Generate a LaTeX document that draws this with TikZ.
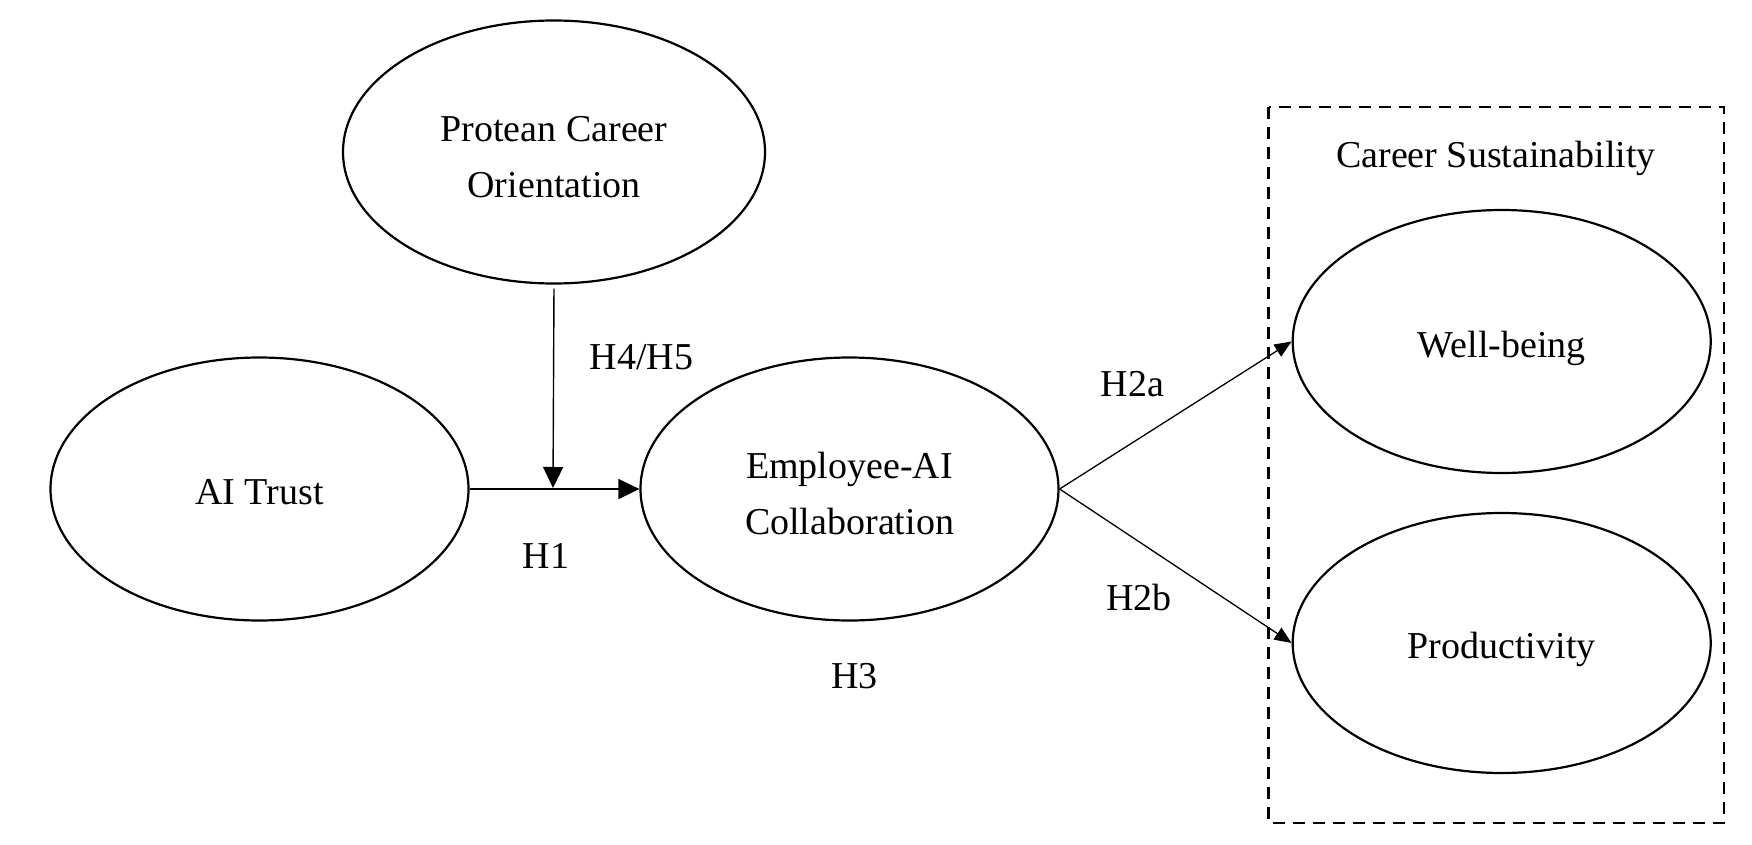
\documentclass[tikz,border=0pt]{standalone}
\usepackage{fontspec}
\setmainfont{Liberation Serif}
\usetikzlibrary{shapes.geometric,arrows.meta}
\begin{document}
\begin{tikzpicture}[x=1pt,y=-1pt,
  construct/.style={ellipse,draw,line width=2.2pt,minimum width=418pt,minimum height=263pt,inner sep=0pt,align=center,font=\fontsize{38}{56}\selectfont},
  oneline/.style={text height=31pt,text depth=0pt},
  lbl/.style={font=\fontsize{38}{46}\selectfont,inner sep=0pt},
  hyparrow/.style={line width=1.4pt,-{Triangle[length=21pt,width=20pt]}},
  hyparrowsmall/.style={line width=1.3pt,-{Triangle[length=17pt,width=14pt]}},
  groupbox/.style={draw,line width=2.5pt,dash pattern=on 12pt off 8pt}]
\useasboundingbox (0,0) rectangle (1752,845);
\fill[white] (0,0) rectangle (1752,845);
\node[construct,minimum width=422pt] (pco) at (554,152) {\rule{0pt}{35pt}Protean Career\\Orientation};
\node[construct,oneline] (ait) at (259.5,489) {AI Trust};
\node[construct] (eac) at (849.5,489) {\rule{0pt}{35pt}Employee-AI\\Collaboration};
\node[construct,oneline] (wb) at (1501.7,341.5) {Well-being};
\node[construct,oneline,minimum height=260pt] (prod) at (1501.7,643) {Productivity};
\path[groupbox] (1268.6,107) rectangle (1724,823);
\node[lbl] (cs) at (1496,158) {Career Sustainability};
\coordinate (mod) at (553,488);
\draw[hyparrow] (ait.east) -- (eac.west);
\draw[hyparrow,shorten <=4pt] (pco.south) -- (mod);
\draw[hyparrowsmall] (eac.east) -- (wb.west);
\draw[hyparrowsmall] (eac.east) -- (prod.west);
\node[lbl] (h45) at (641.5,357) {H4/H5};
\node[lbl] (h1) at (546,556) {H1};
\node[lbl] (h3) at (854.5,676) {H3};
\node[lbl] (h2a) at (1132.5,384.5) {H2a};
\node[lbl] (h2b) at (1139,597.5) {H2b};
\end{tikzpicture}
\end{document}
